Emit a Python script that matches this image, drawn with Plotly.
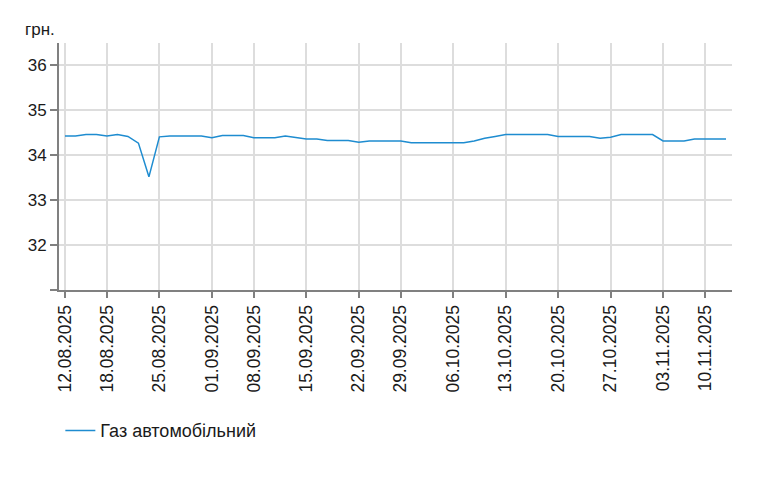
import plotly.graph_objects as go

# business days with prices (DD.MM.YYYY)
DATES = [
    "12.08.2025", "13.08.2025", "14.08.2025", "15.08.2025",
    "18.08.2025", "19.08.2025", "20.08.2025", "21.08.2025", "22.08.2025",
    "25.08.2025", "26.08.2025", "27.08.2025", "28.08.2025", "29.08.2025",
    "01.09.2025", "02.09.2025", "03.09.2025", "04.09.2025",
    "08.09.2025", "09.09.2025", "10.09.2025", "11.09.2025", "12.09.2025",
    "15.09.2025", "16.09.2025", "17.09.2025", "18.09.2025", "19.09.2025",
    "22.09.2025", "23.09.2025", "24.09.2025", "25.09.2025",
    "29.09.2025", "30.09.2025", "01.10.2025", "02.10.2025", "03.10.2025",
    "06.10.2025", "07.10.2025", "08.10.2025", "09.10.2025", "10.10.2025",
    "13.10.2025", "14.10.2025", "15.10.2025", "16.10.2025", "17.10.2025",
    "20.10.2025", "21.10.2025", "22.10.2025", "23.10.2025", "24.10.2025",
    "27.10.2025", "28.10.2025", "29.10.2025", "30.10.2025", "31.10.2025",
    "03.11.2025", "04.11.2025", "05.11.2025", "06.11.2025",
    "10.11.2025", "11.11.2025", "12.11.2025",
]

GAS_PRICE = [
    34.43, 34.43, 34.46, 34.46,
    34.43, 34.46, 34.42, 34.27, 33.52,
    34.41, 34.43, 34.43, 34.43, 34.43,
    34.39, 34.44, 34.44, 34.44,
    34.39, 34.39, 34.39, 34.43, 34.39,
    34.36, 34.36, 34.33, 34.33, 34.33,
    34.29, 34.32, 34.32, 34.32,
    34.32, 34.28, 34.28, 34.28, 34.28,
    34.28, 34.28, 34.32, 34.38, 34.42,
    34.46, 34.46, 34.46, 34.46, 34.46,
    34.42, 34.42, 34.42, 34.42, 34.38,
    34.40, 34.46, 34.46, 34.46, 34.46,
    34.32, 34.32, 34.32, 34.36,
    34.36, 34.36, 34.36,
]

X_TICKS = [
    "12.08.2025", "18.08.2025", "25.08.2025", "01.09.2025", "08.09.2025",
    "15.09.2025", "22.09.2025", "29.09.2025", "06.10.2025", "13.10.2025",
    "20.10.2025", "27.10.2025", "03.11.2025", "10.11.2025",
]
Y_TICKS = [31, 32, 33, 34, 35, 36]
Y_LABELS = ["", "32", "33", "34", "35", "36"]

FONT = "Liberation Sans, Arial, sans-serif"
AXIS_GREY = "#808080"
GRID_GREY = "#dddddd"
TEXT = "#1a1a1a"

fig = go.Figure()
fig.add_trace(go.Scatter(
    x=DATES, y=GAS_PRICE, mode="lines",
    line=dict(color="#1e8cd0", width=1.5),
    name="Газ автомобільний",
))

# page body has an 8px margin, so the figure is sized to fit inside it
fig.update_layout(
    width=753, height=472,
    margin=dict(l=51, r=29, t=35, b=190),
    paper_bgcolor="white", plot_bgcolor="white",
    font=dict(family=FONT, size=17, color=TEXT),
    showlegend=True,
    legend=dict(
        orientation="h", x=0.002, xanchor="left", y=-0.495, yanchor="top",
        font=dict(size=18), itemwidth=30,
    ),
    annotations=[dict(
        text="грн.", xref="paper", yref="paper", x=-0.053, y=1.053,
        xanchor="left", yanchor="middle", showarrow=False,
        font=dict(size=17, color=TEXT),
    )],
)

fig.update_xaxes(
    type="category",
    range=[-0.57, len(DATES) - 1 + 0.57],
    tickmode="array", tickvals=X_TICKS, ticktext=X_TICKS,
    tickangle=-90, tickfont=dict(size=17.5),
    showgrid=True, gridcolor=GRID_GREY, gridwidth=1.5,
    showline=True, linecolor=AXIS_GREY, linewidth=2,
    ticks="outside", ticklen=6, tickcolor=AXIS_GREY, tickwidth=1.5,
    zeroline=False,
)
fig.update_yaxes(
    range=[31, 36.5],
    tickmode="array", tickvals=Y_TICKS, ticktext=Y_LABELS,
    tickfont=dict(size=17),
    showgrid=True, gridcolor=GRID_GREY, gridwidth=1.5,
    showline=True, linecolor=AXIS_GREY, linewidth=2,
    ticks="outside", ticklen=7, tickcolor=AXIS_GREY, tickwidth=1.5,
    zeroline=False,
)

fig.write_html("out.html")
